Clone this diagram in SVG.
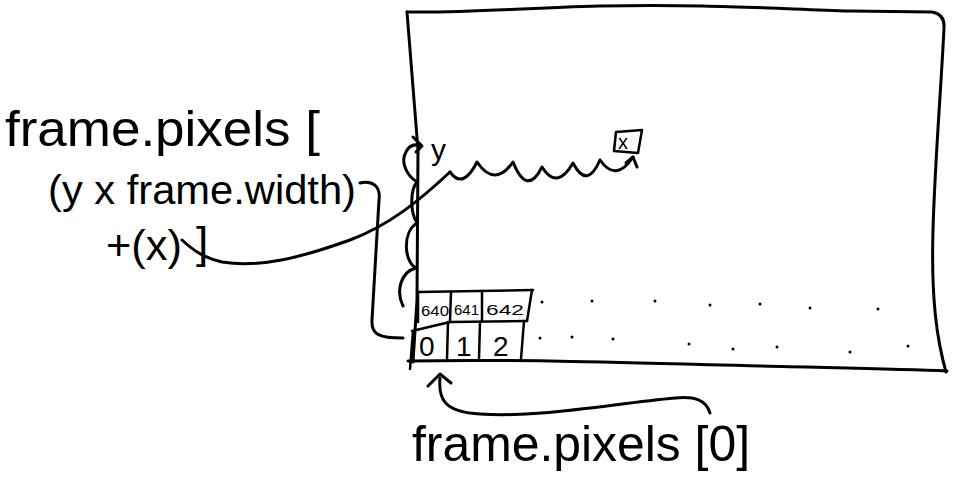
<svg xmlns="http://www.w3.org/2000/svg" width="954" height="480" viewBox="0 0 954 480">
<style>
.ink{fill:none;stroke:#000;stroke-width:3;stroke-linecap:round;stroke-linejoin:round}
.thin{fill:none;stroke:#000;stroke-width:2.5;stroke-linecap:round;stroke-linejoin:round}
.hand{font-family:"Liberation Sans","DejaVu Sans",sans-serif;fill:#000}
.dot{fill:#000}
</style>
<rect width="954" height="480" fill="#fff"/>
<g id="frame">
<path class="ink" d="M407,12 C470,13 520,8 600,6 C700,4 760,8 850,11 L932,12 Q945,14 944,28 C941,90 935,160 933,230 C931,300 937,340 946,372"/>
<path class="ink" d="M407,12 L418,150 L417,300 L413,362"/>
<path class="ink" d="M408,361 C520,359 650,363 760,366 C840,368 900,369 947,371"/>
</g>
<g id="grid">
<path class="thin" d="M418,292 L533,290"/>
<path class="thin" d="M412,331 L450,322 L527,321"/>
<path class="thin" d="M418,292 L418,322 M451,292 L450,322 M482,291 L482,321 M532,290 L527,321"/>
<path class="thin" d="M413,331 L410,369 M448,322 L447,359 M480,322 L479,359 M524,321 L521,359"/>
<text class="hand" x="421" y="316" font-size="15" textLength="28" lengthAdjust="spacingAndGlyphs">640</text>
<text class="hand" x="454" y="315" font-size="15" textLength="25" lengthAdjust="spacingAndGlyphs">641</text>
<text class="hand" x="486" y="315" font-size="15" textLength="38" lengthAdjust="spacingAndGlyphs">642</text>
<text class="hand" x="419" y="356" font-size="28">0</text>
<text class="hand" x="456" y="356" font-size="28">1</text>
<text class="hand" x="493" y="356" font-size="28">2</text>
</g>
<g id="dots">
<circle class="dot" cx="542" cy="302" r="1.5"/><circle class="dot" cx="592" cy="301" r="1.5"/><circle class="dot" cx="655" cy="301" r="1.5"/><circle class="dot" cx="710" cy="305" r="1.5"/><circle class="dot" cx="760" cy="304" r="1.5"/><circle class="dot" cx="810" cy="308" r="1.5"/><circle class="dot" cx="878" cy="309" r="1.5"/>
<circle class="dot" cx="540" cy="338" r="1.5"/><circle class="dot" cx="572" cy="337" r="1.5"/><circle class="dot" cx="613" cy="339" r="1.5"/><circle class="dot" cx="689" cy="344" r="1.5"/><circle class="dot" cx="733" cy="349" r="1.5"/><circle class="dot" cx="777" cy="347" r="1.5"/><circle class="dot" cx="850" cy="352" r="1.5"/><circle class="dot" cx="908" cy="346" r="1.5"/>
</g>
<g id="label-index">
<text class="hand" x="5" y="146" font-size="50" textLength="315" lengthAdjust="spacingAndGlyphs">frame.pixels [</text>
<text class="hand" x="48" y="204" font-size="40" textLength="308" lengthAdjust="spacingAndGlyphs">(y x frame.width)</text>
<text class="hand" x="106" y="260" font-size="42" textLength="76" lengthAdjust="spacingAndGlyphs">+(x)</text>
<text class="hand" x="196" y="258" font-size="44">]</text>
</g>
<g id="label-y">
<text class="hand" x="431" y="160" font-size="30">y</text>
</g>
<g id="label-x">
<path class="thin" d="M616,132 L642,130 L638,153 L614,151 Z"/>
<text class="hand" x="618" y="149" font-size="20">x</text>
</g>
<g id="label-zero">
<text class="hand" x="412" y="461" font-size="50" textLength="338" lengthAdjust="spacingAndGlyphs">frame.pixels [0]</text>
</g>
<g id="connectors">
<path class="ink" d="M360,183 C372,180 381,186 379,200 L372,320 C371,335 380,338 403,338"/>
<path class="ink" d="M403,306 C396,292 400,272 416,268 C404,262 402,232 417,223 C410,212 410,190 417,182 C407,176 400,162 406,152 C410,144 416,144 421,146"/>
<path class="ink" d="M413,137 L422,146 L416,152"/>
<path class="ink" d="M182,240 C195,252 205,258 222,262 C260,268 300,258 350,240 C390,225 420,200 450,172"/>
<path class="ink" d="M450,172 Q463,190 477,162 Q495,188 513,162 Q527,197 542,167 Q557,191 573,163 Q587,190 600,160 Q616,183 633,157"/>
<path class="ink" d="M626,163 L633,157 L637,167"/>
<path class="ink" d="M710,413 C706,400 695,396 675,398 C610,404 540,418 480,414 C445,412 438,400 440,378"/>
<path class="ink" d="M428,386 L440,374 L451,383"/>
</g>
</svg>
